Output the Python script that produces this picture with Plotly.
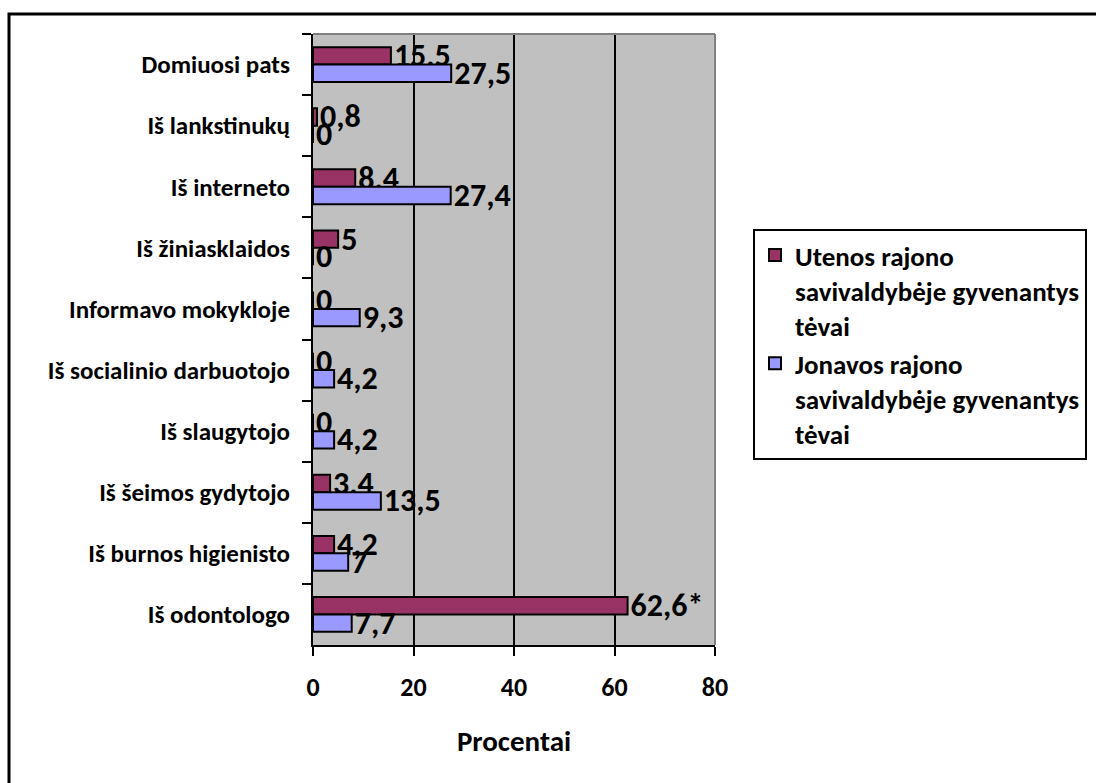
import plotly.graph_objects as go

# Survey answers: where parents got information (percent of respondents)
categories = [
    "Domiuosi pats",
    "Iš lankstinukų",
    "Iš interneto",
    "Iš žiniasklaidos",
    "Informavo mokykloje",
    "Iš socialinio darbuotojo",
    "Iš slaugytojo",
    "Iš šeimos gydytojo",
    "Iš burnos higienisto",
    "Iš odontologo",
]
utena_values = [15.5, 0.8, 8.4, 5, 0, 0, 0, 3.4, 4.2, 62.6]
jonava_values = [27.5, 0, 27.4, 0, 9.3, 4.2, 4.2, 13.5, 7, 7.7]
# significance marks appended to the value labels
utena_marks = ["", "", "", "", "", "", "", "", "", "*"]
jonava_marks = ["", "", "", "", "", "", "", "", "", ""]

utena_name = "Utenos rajono<br>savivaldybėje gyvenantys<br>tėvai"
jonava_name = "Jonavos rajono<br>savivaldybėje gyvenantys<br>tėvai"

x_ticks = [0, 20, 40, 60, 80]

FONT = "Calibri, Carlito, Lato, sans-serif"
W, H = 1096, 783
PL, PR, PT, PB = 313, 715, 34, 645  # plot area in px


def fmt(v, mark):
    return f"{v:g}".replace(".", ",") + mark


def px_x(px):
    return (px - PL) / (PR - PL)


def px_y(py):
    return 1 - (py - PT) / (PB - PT)


fig = go.Figure()
for name, vals, marks, color in [
    (utena_name, utena_values, utena_marks, "#993366"),
    (jonava_name, jonava_values, jonava_marks, "#9999FF"),
]:
    fig.add_trace(go.Bar(
        y=categories,
        x=vals,
        name=name,
        orientation="h",
        marker=dict(color=color, line=dict(color="black", width=2)),
        text=[fmt(v, m) for v, m in zip(vals, marks)],
        textposition="outside",
        textfont=dict(family=FONT, size=32, color="black", weight="bold"),
        constraintext="none",
        cliponaxis=False,
    ))

fig.update_layout(
    width=W,
    height=H,
    margin=dict(l=PL, r=W - PR, t=PT, b=H - PB, autoexpand=False),
    paper_bgcolor="white",
    plot_bgcolor="#C0C0C0",
    barmode="group",
    bargap=0.43,
    bargroupgap=0,
    font=dict(family=FONT, color="black"),
    legend=dict(
        x=px_x(753),
        y=px_y(229),
        xanchor="left",
        yanchor="top",
        bgcolor="white",
        bordercolor="black",
        borderwidth=2,
        font=dict(family=FONT, size=27, color="black", weight="bold"),
        valign="top",
        tracegroupgap=6,
    ),
    xaxis=dict(
        range=[0, 80],
        tickvals=x_ticks,
        showgrid=True,
        gridcolor="black",
        gridwidth=2,
        zeroline=False,
        showline=True,
        linecolor="black",
        linewidth=2,
        ticks="outside",
        ticklen=9,
        tickwidth=2,
        tickcolor="black",
        ticklabelstandoff=9,
        tickfont=dict(family=FONT, size=26, weight="bold"),
        title=dict(text="Procentai", font=dict(family=FONT, size=29, weight="bold"), standoff=28),
        fixedrange=True,
    ),
    yaxis=dict(
        type="category",
        autorange="reversed",
        tickson="boundaries",
        showgrid=False,
        showline=True,
        linecolor="black",
        linewidth=2,
        ticks="outside",
        ticklen=9,
        tickwidth=2,
        tickcolor="black",
        ticklabelstandoff=16,
        tickfont=dict(family=FONT, size=25, weight="bold"),
        fixedrange=True,
    ),
    showlegend=True,
)

# grey border on the top and right of the plot area
fig.add_shape(type="line", xref="paper", yref="paper", x0=0, x1=1, y0=1, y1=1,
              line=dict(color="#808080", width=2), layer="above")
fig.add_shape(type="line", xref="paper", yref="paper", x0=1, x1=1, y0=0, y1=1,
              line=dict(color="#808080", width=2), layer="above")

# chart frame around the whole figure
fig.add_shape(type="rect", xref="paper", yref="paper",
              x0=px_x(9), x1=px_x(W + 10), y0=px_y(H + 10), y1=px_y(14),
              line=dict(color="black", width=3), fillcolor="rgba(0,0,0,0)", layer="below")

fig.write_html("out.html")
